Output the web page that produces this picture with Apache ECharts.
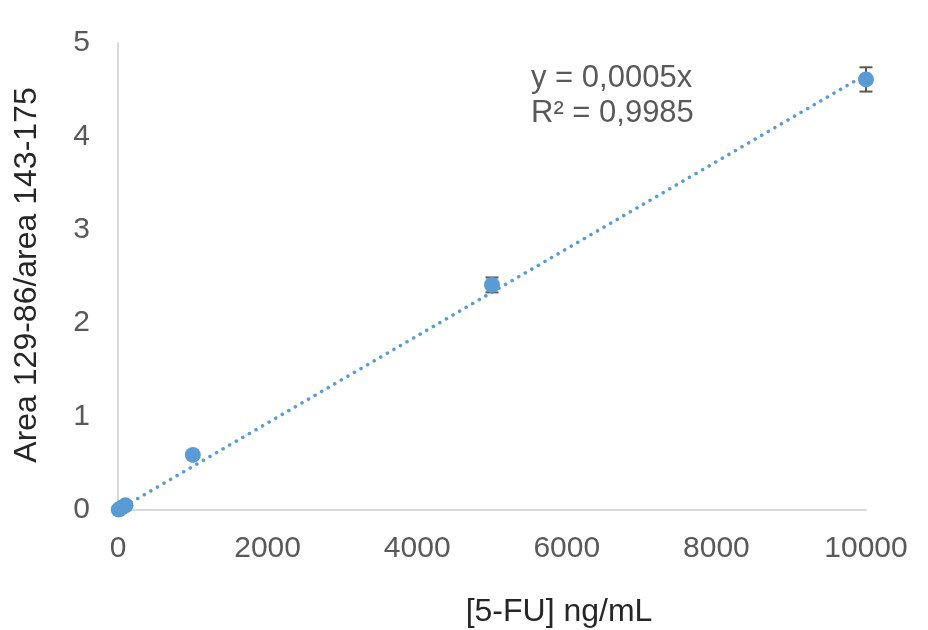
<!DOCTYPE html>
<html>
<head>
<meta charset="utf-8">
<script src="https://cdn.jsdelivr.net/npm/echarts@6/dist/echarts.min.js"></script>
<style>
  html, body { margin: 0; padding: 0; background: #fff; }
  #chart { width: 928px; height: 630px; }
</style>
</head>
<body>
<div id="chart"></div>
<script>
// Calibration standards for 5-FU
const concentrations = [10, 50, 100, 1000, 5000, 10000];   // ng/mL
const areaRatios     = [0.005, 0.025, 0.05, 0.59, 2.41, 4.61];
const ratioErrors    = [0.005, 0.008, 0.01, 0.02, 0.08, 0.13];
const xTicks = [0, 2000, 4000, 6000, 8000, 10000];
const yTicks = [0, 1, 2, 3, 4, 5];
const equationLines = ['y = 0,0005x', 'R² = 0,9985'];
const xTitle = '[5-FU] ng/mL';
const yTitle = 'Area 129-86/area 143-175';

// Linear fit forced through the origin
let sxy = 0, sxx = 0;
concentrations.forEach((x, i) => { sxy += x * areaRatios[i]; sxx += x * x; });
const slope = sxy / sxx;
const xMax = xTicks[xTicks.length - 1];
const fitLine = [[0, 0], [xMax, slope * xMax]];

const points = concentrations.map((x, i) => [x, areaRatios[i]]);
const errorData = concentrations.map((x, i) => [x, areaRatios[i] - ratioErrors[i], areaRatios[i] + ratioErrors[i]]);

const BLUE = '#5B9BD5';
const TEXT = '#595959';
const FONT = 'Liberation Sans, Arial, sans-serif';

const chart = echarts.init(document.getElementById('chart'), null, { renderer: 'canvas' });
chart.setOption({
  backgroundColor: '#ffffff',
  animation: false,
  grid: { left: 118, right: 62, top: 43, bottom: 120 },
  xAxis: {
    type: 'value',
    min: xTicks[0], max: xMax, interval: 2000,
    axisLine: { show: true, lineStyle: { color: '#d9d9d9', width: 2 } },
    axisTick: { show: false },
    splitLine: { show: false },
    axisLabel: { color: TEXT, fontSize: 30, fontFamily: FONT, margin: 24,
                 formatter: v => String(v) }
  },
  yAxis: {
    type: 'value',
    min: yTicks[0], max: yTicks[yTicks.length - 1], interval: 1,
    axisLine: { show: true, lineStyle: { color: '#d9d9d9', width: 2 } },
    axisTick: { show: false },
    splitLine: { show: false },
    axisLabel: { color: TEXT, fontSize: 30, fontFamily: FONT, margin: 28 }
  },
  graphic: [
    {
      type: 'text',
      left: 531, top: 61,
      style: {
        text: equationLines.join('\n'),
        fill: TEXT,
        font: '31px ' + FONT,
        lineHeight: 35
      }
    },
    {
      type: 'text',
      x: 559, y: 612,
      style: {
        text: xTitle,
        fill: '#262626',
        font: '32px ' + FONT,
        align: 'center',
        verticalAlign: 'middle'
      }
    },
    {
      type: 'text',
      x: 27, y: 275,
      rotation: Math.PI / 2,
      style: {
        text: yTitle,
        fill: '#262626',
        font: '32px ' + FONT,
        align: 'center',
        verticalAlign: 'middle'
      }
    }
  ],
  series: [
    {
      type: 'line',
      data: fitLine,
      symbol: 'none',
      lineStyle: { color: BLUE, width: 3.5, type: [0.1, 7.5], cap: 'round' },
      z: 2
    },
    {
      type: 'custom',
      data: errorData,
      renderItem: function (params, api) {
        const x = api.value(0);
        const lo = api.coord([x, api.value(1)]);
        const hi = api.coord([x, api.value(2)]);
        const half = 6.5;
        const style = { stroke: '#595959', lineWidth: 2 };
        return {
          type: 'group',
          children: [
            { type: 'line', shape: { x1: lo[0], y1: lo[1], x2: hi[0], y2: hi[1] }, style: style },
            { type: 'line', shape: { x1: lo[0] - half, y1: lo[1], x2: lo[0] + half, y2: lo[1] }, style: style },
            { type: 'line', shape: { x1: hi[0] - half, y1: hi[1], x2: hi[0] + half, y2: hi[1] }, style: style }
          ]
        };
      },
      z: 3
    },
    {
      type: 'scatter',
      data: points,
      symbol: 'circle',
      symbolSize: 16,
      itemStyle: { color: BLUE, opacity: 1 },
      z: 4
    }
  ]
});
</script>
</body>
</html>
